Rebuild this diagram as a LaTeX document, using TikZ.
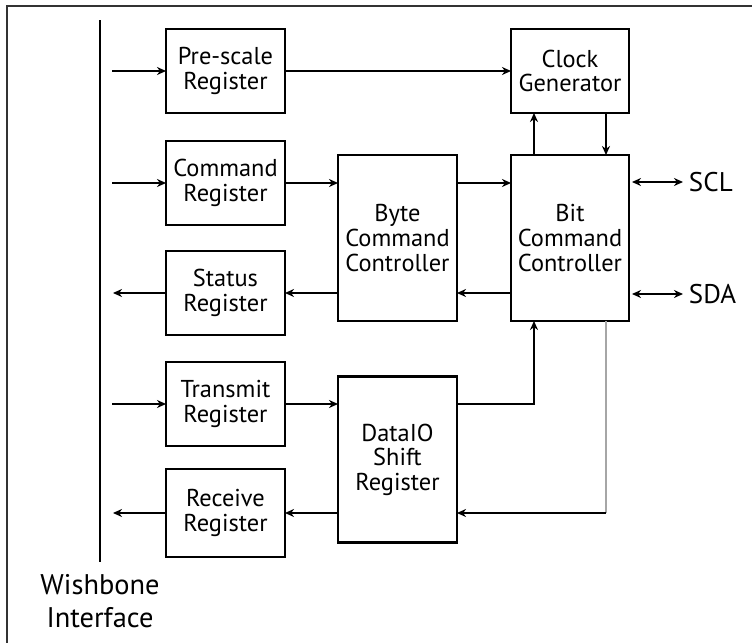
\documentclass[tikz,border=0pt]{standalone}
\usepackage{fontspec}
\setmainfont{PT Sans}
\usetikzlibrary{arrows.meta}

\begin{document}
\begin{tikzpicture}[x=0.5pt,y=-0.5pt,
  every node/.style={outer sep=0pt, align=center, font=\fontsize{12.2}{12.3}\selectfont},
  reg/.style={draw, line width=1.1pt, minimum width=59.5pt, minimum height=42pt, inner sep=0pt},
  ctl/.style={reg, minimum height=83pt},
  link/.style={line width=0.8pt, -{Stealth[length=4.5pt,width=4pt]}},
  both/.style={line width=0.8pt, {Stealth[length=4.5pt,width=4pt]}-{Stealth[length=4.5pt,width=4pt]}}]
\useasboundingbox (0,0) rectangle (752,643);
\clip (0,0) rectangle (752,643);
\draw[line width=1.4pt, black!80] (7,700) -- (7,6) -- (800,6);

\coordinate (bus top) at (100,20);
\coordinate (bus end) at (100,562);
\coordinate (in) at (112,0);
\coordinate (out) at (113,0);
\draw[line width=1pt] (bus top) -- (bus end);
\node[font=\fontsize{14.2}{16.5}\selectfont] (wb) at (100,601) {Wishbone\\Interface};

\node[reg] (pre) at (225.5,71) {Pre-scale\\Register};
\node[reg] (cmd) at (225.5,183) {Command\\Register};
\node[reg] (stat) at (225.5,293) {Status\\Register};
\node[reg] (tx) at (225.5,404) {Transmit\\Register};
\node[reg, minimum height=44pt] (rx) at (225.5,513) {Receive\\Register};

\node[ctl] (byte) at (397.5,238) {Byte\\Command\\Controller};
\node[ctl] (dio) at (397.5,459.5) {DataIO\\Shift\\Register};

\node[reg, minimum width=59pt] (clk) at (570,71) {Clock\\Generator};
\node[ctl, minimum width=59pt] (bit) at (570,238) {Bit\\Command\\Controller};

\node[anchor=west, font=\fontsize{13.5}{16}\selectfont, inner sep=0pt] (scl) at (689,182) {SCL};
\node[anchor=west, font=\fontsize{13.5}{16}\selectfont, inner sep=0pt] (sda) at (689,294) {SDA};

\draw[link] (pre.west -| in) -- (pre.west);
\draw[link] (cmd.west -| in) -- (cmd.west);
\draw[link] (tx.west -| in) -- (tx.west);
\draw[link] (stat.west) -- (stat.west -| out);
\draw[link] (rx.west) -- (rx.west -| out);

\draw[link] (pre.east) -- (pre.east -| clk.west);
\draw[link] (cmd.east) -- (cmd.east -| byte.west);
\draw[link] (byte.east |- cmd) -- (bit.west |- cmd);
\draw[link] (bit.west |- stat) -- (byte.east |- stat);
\draw[link] (byte.west |- stat) -- (stat.east);
\draw[link] (tx.east) -- (tx.east -| dio.west);
\draw[link] (dio.west |- rx) -- (rx.east);

\draw[link] ([xshift=11.5pt]bit.north west) -- ([xshift=11.5pt]clk.south west);
\draw[link] ([xshift=-11.5pt]clk.south east) -- ([xshift=-11.5pt]bit.north east);
\draw[link] (dio.east |- tx) -| ([xshift=11.5pt]bit.south west);
\draw[line width=1pt, black!35] ([xshift=-11.5pt]bit.south east) -- ([xshift=-11.5pt]bit.south east |- rx);
\draw[link] ([xshift=-11.5pt]bit.south east |- rx) -- (dio.east |- rx);

\draw[both, shorten <=1.5pt] (bit.east |- scl) -- ([xshift=-3pt]scl.west);
\draw[both, shorten <=1.5pt] (bit.east |- sda) -- ([xshift=-3pt]sda.west);
\end{tikzpicture}
\end{document}
